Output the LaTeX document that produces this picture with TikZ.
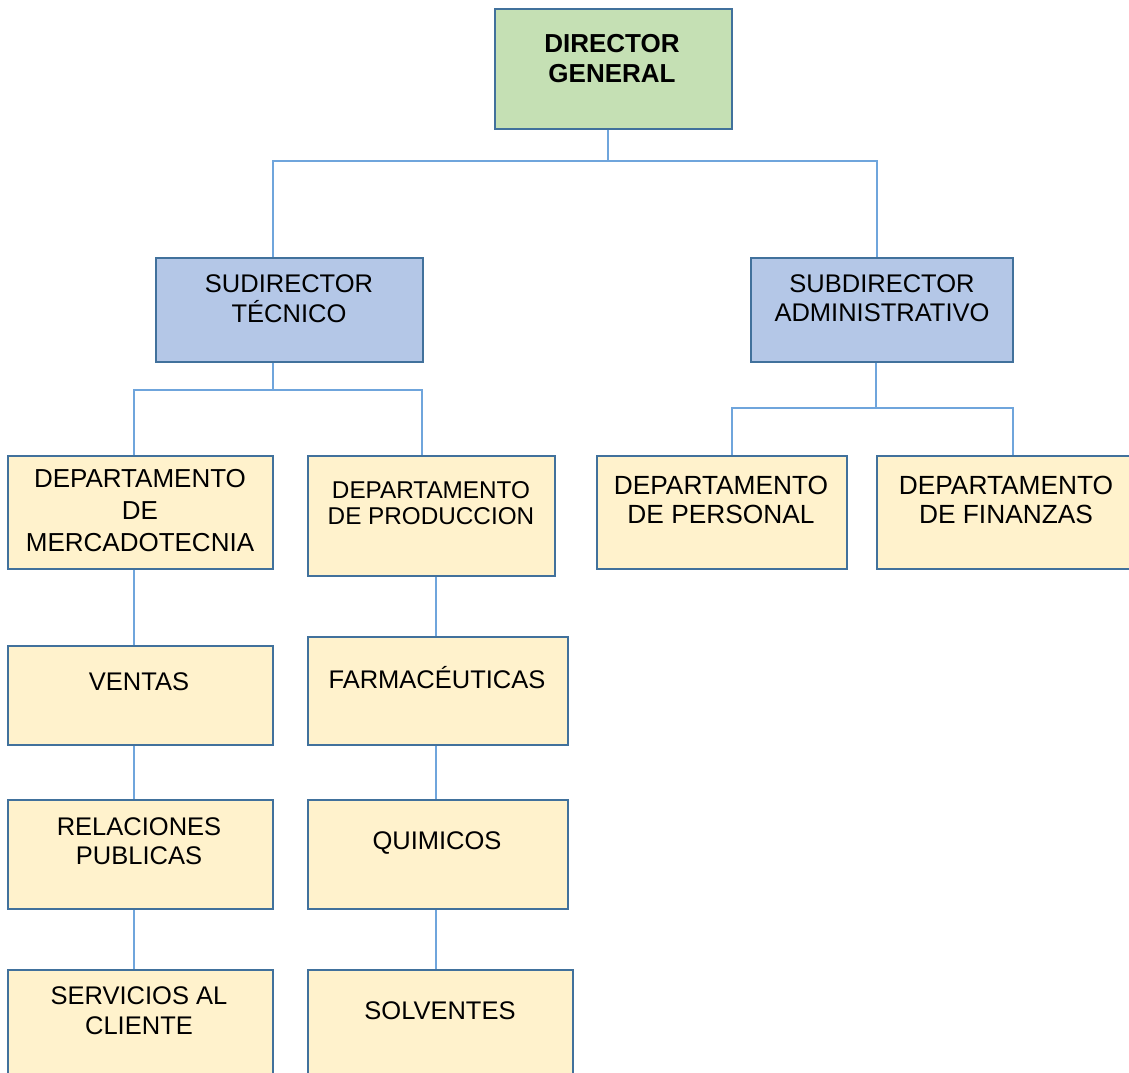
\documentclass[tikz,border=0pt]{standalone}
\usepackage{fontspec}
\setmainfont{Liberation Sans}
\definecolor{boxline}{HTML}{41719C}
\definecolor{linkline}{HTML}{6FA5DC}
\definecolor{topfill}{HTML}{C5E0B4}
\definecolor{midfill}{HTML}{B4C7E7}
\definecolor{lowfill}{HTML}{FFF2CC}
\tikzset{
  orgbox/.style={rectangle, draw=boxline, line width=1.5pt, inner sep=0pt},
  conn/.style={draw=linkline, line width=1.6pt},
  lbl/.style={inner sep=0pt, align=center, anchor=north, text=black},
  lblone/.style={inner sep=0pt, anchor=base, text=black},
}
\newcommand{\fs}[2]{\fontsize{#1}{#2}\selectfont}
\begin{document}
\begin{tikzpicture}[x=1pt,y=-1pt]
\useasboundingbox[fill=white] (0,0) rectangle (1129,1072);

% boxes
\node[orgbox, fill=topfill, minimum width=237pt, minimum height=120pt] (dg) at (613.5,69) {};
\node[orgbox, fill=midfill, minimum width=267pt, minimum height=104pt] (st) at (289.5,310) {};
\node[orgbox, fill=midfill, minimum width=262pt, minimum height=104pt] (sa) at (882,310) {};
\node[orgbox, fill=lowfill, minimum width=265pt, minimum height=113pt] (dm) at (140.5,512.5) {};
\node[orgbox, fill=lowfill, minimum width=247pt, minimum height=120pt] (dp) at (431.5,516) {};
\node[orgbox, fill=lowfill, minimum width=250pt, minimum height=113pt] (dpe) at (722,512.5) {};
\node[orgbox, fill=lowfill, minimum width=258pt, minimum height=113pt] (df) at (1006,512.5) {};
\node[orgbox, fill=lowfill, minimum width=265pt, minimum height=99pt] (ve) at (140.5,695.5) {};
\node[orgbox, fill=lowfill, minimum width=265pt, minimum height=109pt] (rp) at (140.5,854.5) {};
\node[orgbox, fill=lowfill, minimum width=265pt, minimum height=120pt] (sc) at (140.5,1030) {};
\node[orgbox, fill=lowfill, minimum width=260pt, minimum height=108pt] (fa) at (438,691) {};
\node[orgbox, fill=lowfill, minimum width=260pt, minimum height=109pt] (qu) at (438,854.5) {};
\node[orgbox, fill=lowfill, minimum width=265pt, minimum height=120pt] (so) at (440.5,1030) {};

% labels
\node[lbl, font=\fs{26}{30}\bfseries] (tdg) at (612,33.7) {DIRECTOR\\GENERAL};
\node[lbl, font=\fs{25.5}{30}] (tst) at (289,274.9) {SUDIRECTOR\\TÉCNICO};
\node[lbl, font=\fs{25.5}{29}] (tsa) at (882,274.9) {SUBDIRECTOR\\ADMINISTRATIVO};
\node[lbl, font=\fs{26}{32}] (tdm) at (140,468.7) {DEPARTAMENTO\\DE\\MERCADOTECNIA};
\node[lbl, font=\fs{24.3}{26}] (tdp) at (431,481.3) {DEPARTAMENTO\\DE PRODUCCION};
\node[lbl, font=\fs{26.3}{29}] (tdpe) at (721,475.6) {DEPARTAMENTO\\DE PERSONAL};
\node[lbl, font=\fs{26.3}{29}] (tdf) at (1006,475.6) {DEPARTAMENTO\\DE FINANZAS};
\node[lblone, font=\fs{25.5}{30}] (tve) at (139,690.1) {VENTAS};
\node[lbl, font=\fs{25.5}{29}] (trp) at (139,817.9) {RELACIONES\\PUBLICAS};
\node[lbl, font=\fs{25.5}{30}] (tsc) at (139,986.9) {SERVICIOS AL\\CLIENTE};
\node[lblone, font=\fs{25.5}{30}] (tfa) at (437,688.1) {FARMACÉUTICAS};
\node[lblone, font=\fs{25.5}{30}] (tqu) at (437,849.1) {QUIMICOS};
\node[lblone, font=\fs{25.5}{30}] (tso) at (440,1019.1) {SOLVENTES};

% connectors
\draw[conn] ([xshift=-5.5pt]dg.south) -- ++(0,31) coordinate (j1);
\draw[conn] (j1) -| ([xshift=-16.5pt]st.north);
\draw[conn] (j1) -| ([xshift=-5pt]sa.north);

\draw[conn] ([xshift=-16.5pt]st.south) -- ++(0,27) coordinate (j2);
\draw[conn] (j2) -| ([xshift=-6.5pt]dm.north);
\draw[conn] (j2) -| ([xshift=-9.5pt]dp.north);

\draw[conn] ([xshift=-6pt]sa.south) -- ++(0,45) coordinate (j3);
\draw[conn] (j3) -| ([xshift=10pt]dpe.north);
\draw[conn] (j3) -| ([xshift=7pt]df.north);

\draw[conn] ([xshift=-6.5pt]dm.south) -- ([xshift=-6.5pt]ve.north);
\draw[conn] ([xshift=-6.5pt]ve.south) -- ([xshift=-6.5pt]rp.north);
\draw[conn] ([xshift=-6.5pt]rp.south) -- ([xshift=-6.5pt]sc.north);

\draw[conn] ([xshift=4.5pt]dp.south) -- ([xshift=-2pt]fa.north);
\draw[conn] ([xshift=-2pt]fa.south) -- ([xshift=-2pt]qu.north);
\draw[conn] ([xshift=-2pt]qu.south) -- ([xshift=-4.5pt]so.north);
\end{tikzpicture}
\end{document}
